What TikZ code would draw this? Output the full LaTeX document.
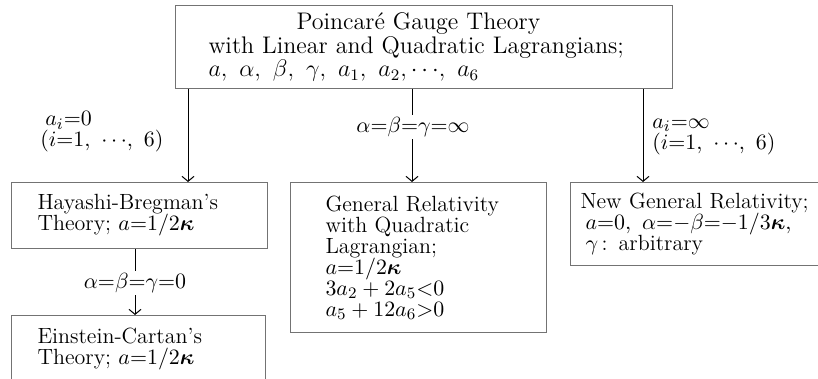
\documentclass[tikz,border=0pt]{standalone}
\usepackage{amsmath}
\usepackage{amssymb}
\usepackage{bm}
\usetikzlibrary{arrows.meta}

\begin{document}
\begin{tikzpicture}[x=0.5pt,y=-0.5pt,>={Straight Barb[length=2.5pt,width=6pt]},
  box/.style={draw=black!55,line width=0.5pt,anchor=north west,inner ysep=0pt,align=left,
    font=\fontsize{11}{10.5}\selectfont},
  lbl/.style={inner sep=1pt,align=left,font=\fontsize{11}{10.5}\selectfont},
  arr/.style={line width=0.5pt}]
  \clip (0,0) rectangle (818,379);

  % boxes
  \node[box,inner xsep=16.5pt,text width=215.5pt,minimum height=41.5pt,
    font=\fontsize{12}{10.2}\selectfont] (P) at (175,5)
    {\hspace*{44pt}Poincar\'e Gauge Theory\\
     with Linear and Quadratic Lagrangians;\\
     $a,\ \alpha,\ \beta,\ \gamma,\ a_1,\ a_2,{\cdots},\ a_6$};
  \node[box,inner xsep=13pt,text width=102pt,minimum height=33pt] (HB) at (11,182)
    {Hayashi-Bregman's\\Theory; $a{=}1/2\bm{\kappa}$};
  \node[box,inner xsep=13pt,text width=101pt,minimum height=33pt] (EC) at (11,315)
    {Einstein-Cartan's\\Theory; $a{=}1/2\bm{\kappa}$};
  \node[box,inner xsep=17.5pt,text width=93pt,minimum height=75pt] (GR) at (290,182)
    {General Relativity\\with Quadratic\\Lagrangian;\\$a{=}1/2\bm{\kappa}$\\
     $3a_2+2a_5{<}0$\\$a_5+12a_6{>}0$};
  \node[box,inner xsep=5pt,text width=120pt,minimum height=41.5pt] (NGR) at (570,182)
    {New General Relativity;\\
     \hspace*{2.5pt}$a{=}0,\ \alpha{=}{-}\beta{=}{-}1/3\bm{\kappa},$\\
     \hspace*{2.5pt}$\gamma$\,: arbitrary};

  % arrow positions
  \coordinate (la) at (188,0);
  \coordinate (ma) at (412,0);
  \coordinate (ra) at (643,0);
  \coordinate (sa) at (135,0);

  % conditions
  \node[lbl,anchor=west] (c1) at (38,132) {\hspace*{2.5pt}$a_i{=}0$\\$(i{=}1,\ {\cdots},\ 6)$};
  \node[lbl] (c2) at (413,127) {$\alpha{=}\beta{=}\gamma{=}\infty$};
  \node[lbl,anchor=west] (c3) at (650,137) {$a_i{=}\infty$\\$(i{=}1,\ {\cdots},\ 6)$};
  \node[lbl] (c4) at (135,283) {$\alpha{=}\beta{=}\gamma{=}0$};

  \draw[arr,->] (P.south -| la) -- (HB.north -| la);
  \draw[arr] (P.south -| ma) -- (c2.north -| ma);
  \draw[arr,->] (c2.south -| ma) -- (GR.north -| ma);
  \draw[arr,->] (P.south -| ra) -- (NGR.north -| ra);
  \draw[arr] (HB.south -| sa) -- (c4.north -| sa);
  \draw[arr,->] (c4.south -| sa) -- (EC.north -| sa);
\end{tikzpicture}
\end{document}
